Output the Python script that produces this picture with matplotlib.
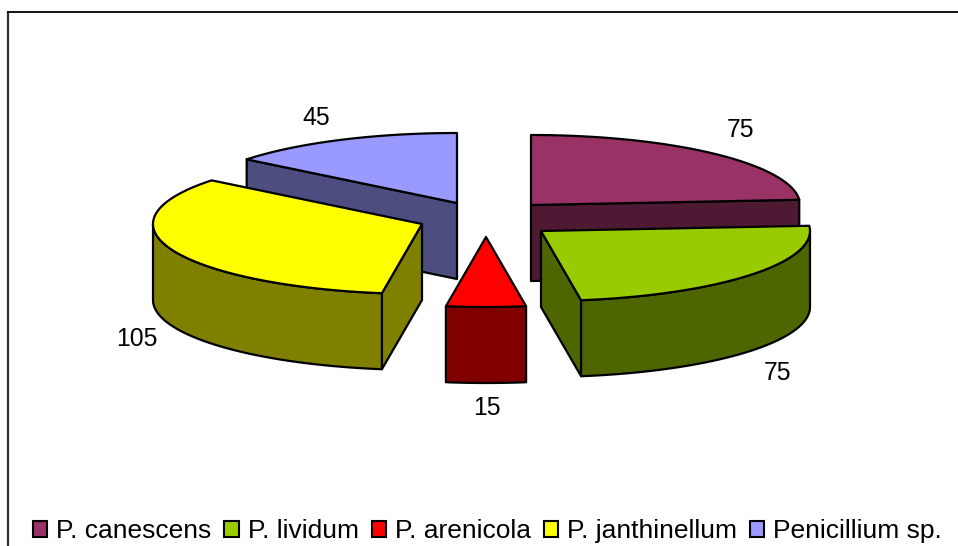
import numpy as np
import matplotlib
matplotlib.use("Agg")
import matplotlib.pyplot as plt
from matplotlib.patches import Patch, Polygon

plt.rcParams['font.family'] = ['Liberation Sans', 'DejaVu Sans']

species = ['P. canescens', 'P. lividum', 'P. arenicola', 'P. janthinellum', 'Penicillium sp.']
counts = [75, 75, 15, 105, 45]

top_colors = ['#993366', '#99CC00', '#FF0000', '#FFFF00', '#9999FF']
side_colors = ['#4D1933', '#4D6600', '#800000', '#808000', '#4D4D80']

# layout in pixels of the 958x546 picture
centers = [(531, 205), (541, 231), (486, 237), (422, 224), (457, 203)]
label_pos = [(741, 130), (778, 373), (487, 408), (137, 339), (316, 118)]
draw_order = [4, 0, 3, 2, 1]  # back to front
RX = 269
RY = 70
DEPTH = 76
LW = 1.6


def rim(center, a0, a1):
    t = np.radians(np.linspace(a0, a1, max(int(abs(a1 - a0)) * 2, 2)))
    return np.column_stack((center[0] + RX * np.sin(t), center[1] - RY * np.cos(t)))


def drop(pts):
    return pts + np.array([0, DEPTH])


def face(ax, pts, color):
    ax.add_patch(Polygon(pts, closed=True, fc=color, ec='black', lw=LW, joinstyle='round'))


def draw_slice(ax, center, a0, a1, top, side):
    top_rim = rim(center, a0, a1)
    apex = np.array([center])

    # only the cut faces turned towards the viewer
    if np.sin(np.radians(a0)) < -1e-6:
        edge = top_rim[:1]
        face(ax, np.vstack((apex, edge, drop(edge), drop(apex))), side)
    if np.sin(np.radians(a1)) > 1e-6:
        edge = top_rim[-1:]
        face(ax, np.vstack((apex, edge, drop(edge), drop(apex))), side)

    w0, w1 = max(a0, 90), min(a1, 270)
    if w1 > w0:
        wall = rim(center, w0, w1)
        face(ax, np.vstack((wall, drop(wall)[::-1])), side)

    face(ax, np.vstack((apex, top_rim)), top)


def main():
    fig = plt.figure(figsize=(9.58, 5.46), dpi=100, facecolor='white')
    ax = fig.add_axes([0, 0, 1, 1])
    ax.set_xlim(0, 958)
    ax.set_ylim(546, 0)
    ax.axis('off')

    # chart frame, runs off the right and bottom of the picture
    ax.plot([8, 8], [546, 11], color='#333333', lw=1.6, solid_capstyle='butt')
    ax.plot([7, 958], [12, 12], color='black', lw=1.3, solid_capstyle='butt')

    edges = np.cumsum([0] + counts) / sum(counts) * 360
    for i in draw_order:
        draw_slice(ax, centers[i], edges[i], edges[i + 1], top_colors[i], side_colors[i])

    for value, pos in zip(counts, label_pos):
        ax.text(pos[0], pos[1], str(value), fontsize=17.8, ha='center', va='center', color='black')

    handles = [Patch(fc=c, ec='black', lw=1.5) for c in top_colors]
    ax.legend(handles, species, ncol=5, frameon=False, fontsize=19,
              loc='center', bbox_to_anchor=(487.5 / 958, 1 - 531 / 546),
              handlelength=0.55, handleheight=0.55, handletextpad=0.34,
              columnspacing=0.48, borderpad=0, borderaxespad=0, labelcolor='black')

    fig.savefig('out.png', dpi=100)


if __name__ == "__main__":
    main()
